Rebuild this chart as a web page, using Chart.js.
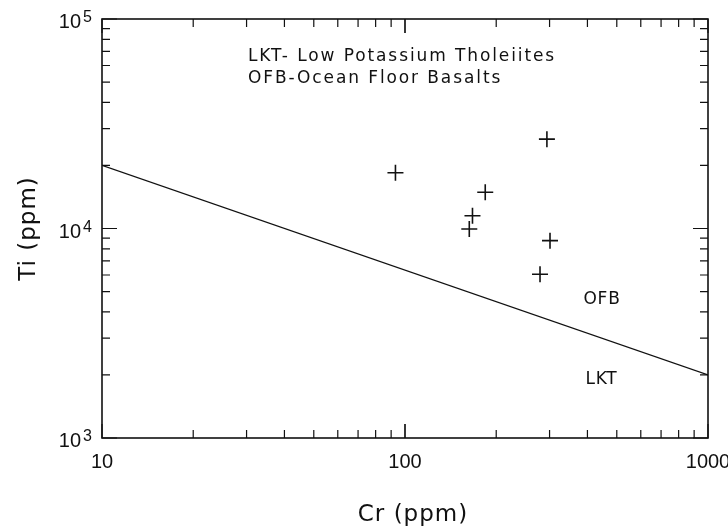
<!DOCTYPE html>
<html>
<head>
<meta charset="utf-8">
<script src="https://cdn.jsdelivr.net/npm/chart.js@4/dist/chart.umd.min.js"></script>
<style>
  body { margin: 0; background: #fff; }
  #wrap { width: 728px; height: 529px; }
</style>
</head>
<body>
<div id="wrap"><canvas id="chart" width="728" height="529"></canvas></div>
<script>
// sample crosses
const crValues = [93, 294, 184, 167, 163, 301, 279];
const tiValues = [18450, 26700, 14900, 11500, 9950, 8750, 6050];

// LKT / OFB discrimination line
const lineCr = [10, 1000];
const lineTi = [20000, 2000];

const xTickValues = [10, 100, 1000];
const yTickExponents = [3, 4, 5];
const legendLines = ['LKT- Low Potassium Tholeiites', 'OFB-Ocean Floor Basalts'];
const fieldLabels = ['OFB', 'LKT'];
const fieldCr = [447, 445];
const fieldTi = [4560, 1892];

const ink = '#111';

function minorValues(min, max) {
    var out = [];
    for (var d = min; d < max; d *= 10) {
        for (var k = 1; k <= 10; k++) out.push({ v: d * k, major: k === 1 || k === 10 });
    }
    return out;
}

const framePlugin = {
    id: 'frame',
    afterDraw(chart) {
        const c = chart.ctx;
        const a = chart.chartArea;
        const xs = chart.scales.x;
        const ys = chart.scales.y;
        c.save();
        c.strokeStyle = ink;
        c.fillStyle = ink;

        // box
        c.lineWidth = 1.6;
        c.strokeRect(a.left, a.top, a.right - a.left, a.bottom - a.top);

        // inward ticks on all four sides
        c.lineWidth = 1.2;
        minorValues(10, 1000).forEach(function (t) {
            var px = xs.getPixelForValue(t.v);
            var len = t.major ? 14 : 8;
            c.beginPath();
            c.moveTo(px, a.bottom); c.lineTo(px, a.bottom - len);
            c.moveTo(px, a.top); c.lineTo(px, a.top + len);
            c.stroke();
        });
        minorValues(1000, 100000).forEach(function (t) {
            var py = ys.getPixelForValue(t.v);
            var len = t.major ? 15 : 8;
            c.beginPath();
            c.moveTo(a.left, py); c.lineTo(a.left + len, py);
            c.moveTo(a.right, py); c.lineTo(a.right - len, py);
            c.stroke();
        });

        // x tick labels
        c.font = '20px "Liberation Sans"';
        c.textAlign = 'center';
        c.textBaseline = 'alphabetic';
        xTickValues.forEach(function (v) {
            c.fillText(String(v), xs.getPixelForValue(v), a.bottom + 30);
        });

        // y tick labels 10^n
        yTickExponents.forEach(function (e) {
            var py = ys.getPixelForValue(Math.pow(10, e));
            c.font = '20px "Liberation Sans"';
            c.textAlign = 'right';
            c.fillText('10', 81, py + 9);
            c.font = '16px "Liberation Sans"';
            c.textAlign = 'left';
            c.fillText(String(e), 83, py + 3);
        });

        // axis titles
        c.font = '23px "DejaVu Sans"';
        c.letterSpacing = '1px';
        c.textAlign = 'center';
        c.fillText('Cr (ppm)', (a.left + a.right) / 2 + 8, 521);
        c.save();
        c.translate(35, ys.getPixelForValue(10000));
        c.rotate(-Math.PI / 2);
        c.fillText('Ti (ppm)', 0, 0);
        c.restore();

        // legend text
        c.font = '17px "DejaVu Sans"';
        c.letterSpacing = '1.9px';
        c.textAlign = 'left';
        c.fillText(legendLines[0], 248, 61);
        c.fillText(legendLines[1], 248, 83);

        // field labels
        c.font = '17px "DejaVu Sans"';
        c.letterSpacing = '0.8px';
        c.textAlign = 'center';
        c.textBaseline = 'middle';
        fieldLabels.forEach(function (s, i) {
            c.fillText(s, xs.getPixelForValue(fieldCr[i]), ys.getPixelForValue(fieldTi[i]));
        });
        c.restore();
    }
};

const ctx = document.getElementById('chart');

var chart = new Chart(ctx, {
    type: 'scatter',
    data: {
        datasets: [{
            label: 'samples',
            data: crValues.map(function (v, i) { return { x: v, y: tiValues[i] }; }),
            pointStyle: 'cross',
            pointRadius: 8,
            pointBorderWidth: 1.6,
            borderColor: ink,
            backgroundColor: ink
        }, {
            label: 'LKT / OFB',
            type: 'line',
            data: lineCr.map(function (v, i) { return { x: v, y: lineTi[i] }; }),
            borderColor: ink,
            borderWidth: 1.3,
            pointRadius: 0,
            fill: false
        }]
    },
    options: {
        responsive: false,
        animation: false,
        layout: {
            padding: { left: 102, top: 19, right: 20, bottom: 91 }
        },
        plugins: {
            legend: { display: false },
            tooltip: { enabled: false }
        },
        scales: {
            x: { type: 'logarithmic', min: 10, max: 1000, display: false },
            y: { type: 'logarithmic', min: 1000, max: 100000, display: false }
        }
    },
    plugins: [framePlugin]
});
</script>
</body>
</html>
